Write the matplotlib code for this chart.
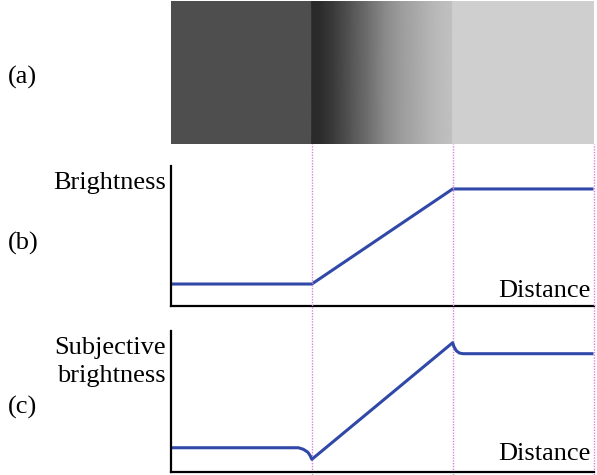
import numpy as np
import matplotlib
matplotlib.use('Agg')
import matplotlib.pyplot as plt

plt.rcParams['font.family'] = 'Liberation Serif'
plt.rcParams['font.size'] = 19

# (a) grey levels of the strip, 0-255, along distance
strip_dist = [0.0, 0.999, 1.0, 1.06, 1.16, 1.28, 1.40, 1.51, 1.63, 1.75, 1.87, 1.999, 2.0, 3.0]
strip_gray = [78, 78, 42, 44, 60, 85, 110, 136, 156, 170, 184, 193, 207, 207]

# (b) physical brightness profile
bright_dist = [0.0, 1.0, 2.0, 3.0]
bright_val = [0.157, 0.157, 0.836, 0.836]

# (c) perceived brightness (Mach bands)
subj_dist = [0.0, 0.905, 0.94, 0.972, 0.988, 1.0, 2.0, 2.009, 2.026, 2.047, 2.073, 3.0]
subj_val = [0.172, 0.172, 0.161, 0.140, 0.116, 0.090, 0.917, 0.889, 0.860, 0.844, 0.839, 0.839]

edges = [1.0, 2.0, 3.0]

W, H = 597, 475
fig = plt.figure(figsize=(W / 100, H / 100), dpi=100)

left = 171 / W
width = (593.5 - 171) / W

# panel (a): the gradient strip
ax_a = fig.add_axes([left, 1 - 144 / H, width, 143 / H])
X, Y = np.meshgrid(strip_dist, [0, 1])
C = np.vstack([strip_gray, strip_gray])
ax_a.pcolormesh(X, Y, C, shading='gouraud', cmap='gray', vmin=0, vmax=255)
ax_a.set_xlim(0, 3)
ax_a.set_ylim(0, 1)
ax_a.axis('off')

line_kw = dict(color='#3048a8', lw=2.2, solid_joinstyle='round', solid_capstyle='butt', clip_on=False)


def style(ax):
    for s in ['top', 'right']:
        ax.spines[s].set_visible(False)
    for s in ['left', 'bottom']:
        ax.spines[s].set_linewidth(1.6)
        ax.spines[s].set_color('black')
    ax.set_xticks([])
    ax.set_yticks([])
    ax.set_xlim(0, 3)
    ax.set_ylim(0, 1)
    ax.set_facecolor('none')


# panel (b)
ax_b = fig.add_axes([left, 1 - 306 / H, width, 140 / H])
style(ax_b)
ax_b.plot(bright_dist, bright_val, **line_kw)
ax_b.text(-0.012, 0.879, 'Brightness', transform=ax_b.transAxes, ha='right', va='center')
ax_b.text(0.992, 0.064, 'Distance', transform=ax_b.transAxes, ha='right', va='baseline')

# panel (c)
ax_c = fig.add_axes([left, 1 - 472 / H, width, 141 / H])
style(ax_c)
ax_c.plot(subj_dist, subj_val, **line_kw)
ax_c.text(-0.012, 0.78, 'Subjective\nbrightness', transform=ax_c.transAxes,
          ha='right', va='center', multialignment='right', linespacing=1.3)
ax_c.text(0.992, 0.085, 'Distance', transform=ax_c.transAxes, ha='right', va='baseline')

# dotted guides running down from the strip
for d in edges:
    ax_c.axvline(d, ymin=-0.02, ymax=(472 - 144) / 141, color='#dd80dd',
                 lw=1.0, ls=(0, (1, 1)), clip_on=False, zorder=0)

fig.text(8 / W, 1 - 77 / H, '(a)', ha='left', va='center')
fig.text(8 / W, 1 - 243 / H, '(b)', ha='left', va='center')
fig.text(8 / W, 1 - 407 / H, '(c)', ha='left', va='center')

fig.savefig('out.png', dpi=100)
